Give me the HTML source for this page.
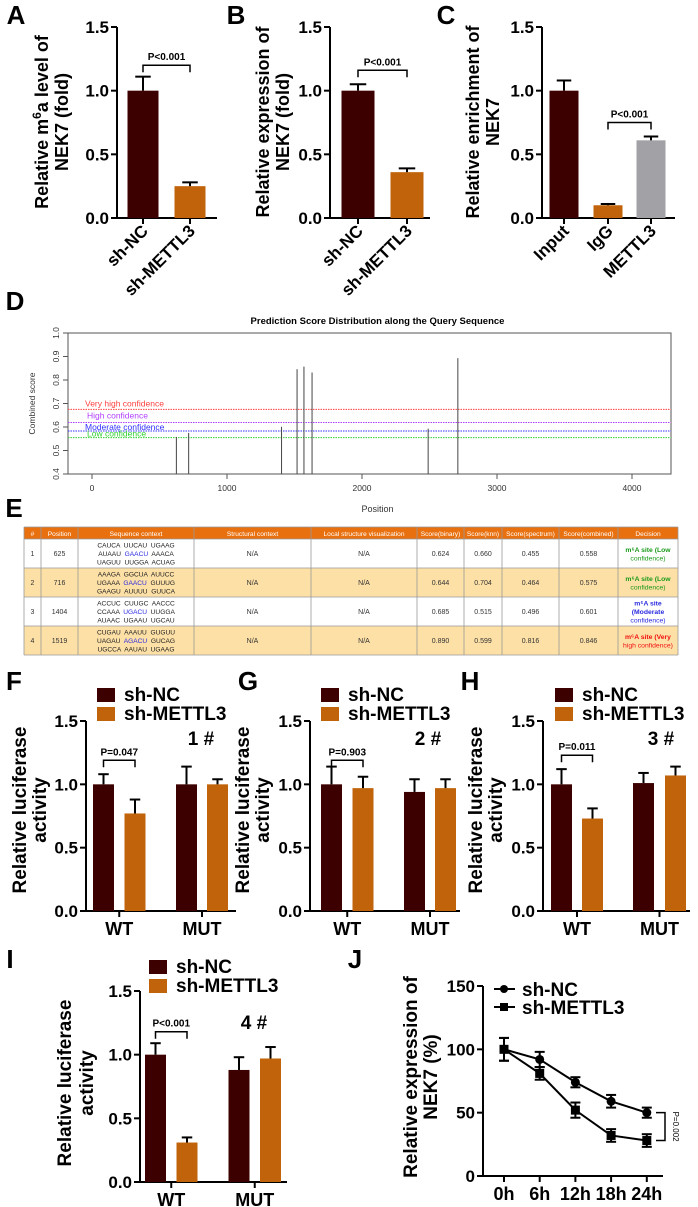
<!DOCTYPE html>
<html><head><meta charset="utf-8">
<style>
body{margin:0;background:#fff;}
svg{display:block;font-family:"Liberation Sans",Arial,sans-serif;}
</style></head>
<body>
<svg id="fig" width="698" height="1207" viewBox="0 0 698 1207" xmlns="http://www.w3.org/2000/svg"></svg>
<script>
// ---------- DATA ----------
const catsA = ["sh-NC","sh-METTL3"];
const valsA = [1.0, 0.25];
const errA  = [0.11, 0.03];
const catsB = ["sh-NC","sh-METTL3"];
const valsB = [1.0, 0.36];
const errB  = [0.05, 0.03];
const catsC = ["Input","IgG","METTL3"];
const valsC = [1.0, 0.10, 0.61];
const errC  = [0.08, 0.01, 0.03];
const barTicks = [0, 0.5, 1.0, 1.5];
const barTickLabels = ["0.0","0.5","1.0","1.5"];

const groupsLuc = ["WT","MUT"];
const seriesLuc = ["sh-NC","sh-METTL3"];
const valsF = [1.0, 0.77, 1.0, 1.0];
const errF  = [0.08, 0.11, 0.14, 0.04];
const valsG = [1.0, 0.97, 0.94, 0.97];
const errG  = [0.14, 0.09, 0.10, 0.07];
const valsH = [1.0, 0.73, 1.01, 1.07];
const errH  = [0.12, 0.08, 0.08, 0.07];
const valsI = [1.0, 0.31, 0.88, 0.97];
const errI  = [0.09, 0.04, 0.10, 0.09];

const sitePos   = [625, 716, 1404, 1519, 1570, 1630, 2490, 2710];
const siteScore = [0.558, 0.575, 0.601, 0.846, 0.857, 0.832, 0.593, 0.893];
const thrNames  = ["Very high confidence","High confidence","Moderate confidence","Low confidence"];
const thrVals   = [0.675, 0.619, 0.583, 0.555];
const dXTicks = [0,1000,2000,3000,4000];
const dYTicks = [0.4,0.5,0.6,0.7,0.8,0.9,1.0];

const jCats = ["0h","6h","12h","18h","24h"];
const jNC   = [100, 92, 74, 59, 50];
const jNCe  = [9, 6, 4, 5, 4];
const jME   = [100, 81, 52, 32, 28];
const jMEe  = [9, 5, 6, 5, 5];
const jTicks = [0, 50, 100, 150];

const tableRows = [
 ["1","625",["CAUCA  UUCAU  UGAAG","AUAAU  GAACU  AAACA","UAGUU  UUGGA  ACUAG"],"0.624","0.660","0.455","0.558",["m⁶A site (Low","confidence)"],"#1a9a1a"],
 ["2","716",["AAAGA  GGCUA  AUUCC","UGAAA  GAACU  GUUUG","GAAGU  AUUUU  GUUCA"],"0.644","0.704","0.464","0.575",["m⁶A site (Low","confidence)"],"#1a9a1a"],
 ["3","1404",["ACCUC  CUUGC  AACCC","CCAAA  UGACU  UUGGA","AUAAC  UGAAU  UGCAU"],"0.685","0.515","0.496","0.601",["m⁶A site","(Moderate","confidence)"],"#2a2ae0"],
 ["4","1519",["CUGAU  AAAUU  GUGUU","UAGAU  AGACU  GUCAG","UGCCA  AAUAU  UGAAG"],"0.890","0.599","0.816","0.846",["m⁶A site (Very","high confidence)"],"#f01010"]
];

// ---------- HELPERS ----------
const NS = "http://www.w3.org/2000/svg";
const svg = document.getElementById("fig");
const DARK = "#3c0000", ORANGE = "#c0630a", GRAY = "#a2a2a6";
function el(tag, parent){ const e=document.createElementNS(NS,tag); (parent||svg).appendChild(e); return e; }
function set(e,o){ for(const k in o) e.setAttribute(k,o[k]); return e; }
function txt(parent,x,y,s,size,opts){
  const t=el("text",parent);
  set(t,{x:x,y:y,"font-size":size,"font-weight":(opts&&opts.w)||"bold",fill:(opts&&opts.fill)||"#000","text-anchor":(opts&&opts.a)||"middle"});
  if(opts&&opts.rot!==undefined) t.setAttribute("transform","rotate("+opts.rot+" "+x+" "+y+")");
  t.textContent=s; return t;
}
function line(parent,x1,y1,x2,y2,c,w,dash){
  const l=el("line",parent); set(l,{x1:x1,y1:y1,x2:x2,y2:y2,stroke:c||"#000","stroke-width":w||2});
  if(dash) l.setAttribute("stroke-dasharray",dash); return l;
}

function barPanel(cfg){
  const g=el("g");  
  const yS=v=>cfg.y0-(v/1.5)*(cfg.y0-cfg.yTop);
  const lt=txt(g,cfg.letterX,cfg.letterY,cfg.letter,26);
   
  const ax=line(g,cfg.axisX,cfg.yTop,cfg.axisX,cfg.y0,"#000",2);
   
  barTicks.forEach((t,i)=>{
    line(g,cfg.axisX-6,yS(t),cfg.axisX,yS(t),"#000",2);
    const tl=txt(g,cfg.axisX-8,yS(t)+6,barTickLabels[i],17,{a:"end"});
     
  });
  const xa=line(g,cfg.axisX,cfg.y0,cfg.xEnd,cfg.y0,"#000",2);
   
  cfg.titleLines.forEach((s,i)=>{
    const t=txt(g,cfg.titleX[i],cfg.titleY,"",cfg.titleSize||18,{rot:-90});
    t.innerHTML=s;
     
  });
  cfg.vals.forEach((v,i)=>{
    const cx=cfg.centers[i], w=cfg.w;
    const r=el("rect",g); set(r,{x:cx-w/2,y:yS(v),width:w,height:cfg.y0-yS(v),fill:cfg.colors[i]});
     
    const top=yS(v+cfg.errs[i]);
    line(g,cx,yS(v),cx,top,"#000",2);
    line(g,cx-w*0.25,top,cx+w*0.25,top,"#000",2);
  });
  if(cfg.cats){
    cfg.cats.forEach((c,i)=>{
      const cx=cfg.centers[i];
      line(g,cx,cfg.y0,cx,cfg.y0+6,"#000",2);
      const t=txt(g,cx+6,cfg.y0+14,c,17,{a:"end",rot:-45});
       
    });
  }
  if(cfg.groups){
    cfg.groups.forEach((gname,i)=>{
      const cx=(cfg.centers[2*i]+cfg.centers[2*i+1])/2;
      line(g,cx,cfg.y0,cx,cfg.y0+6,"#000",2);
      const t=txt(g,cx,cfg.y0+24,gname,18);
       
    });
  }
  if(cfg.br){
    const [a,b,val,label]=cfg.br, y=yS(val);
    const xa1=cfg.centers[a], xb=cfg.centers[b];
    const p=el("path",g); set(p,{d:`M${xa1} ${y+7}V${y}H${xb}V${y+7}`,fill:"none",stroke:"#000","stroke-width":1.5});
     
    const t=txt(g,(xa1+xb)/2,y-5,label,10);
     
  }
  if(cfg.hash){
    const t=txt(g,cfg.hash[0],cfg.hash[1],cfg.hash[2],19);
     
  }
  if(cfg.legend){
    const [lx,ly]=cfg.legend;
    seriesLuc.forEach((s,i)=>{
      const r=el("rect",g); set(r,{x:lx,y:ly+i*19,width:18,height:14,fill:i?ORANGE:DARK});
       
      const t=txt(g,lx+27,ly+i*19+13,s,19,{a:"start"});
       
    });
  }
}

// ---------- PANELS A-C ----------
barPanel({name:"panel-a",letter:"A",letterX:16,letterY:24,axisX:117,yTop:27,y0:218,xEnd:217,
  centers:[143,190],w:31,vals:valsA,errs:errA,colors:[DARK,ORANGE],cats:catsA,
  titleLines:["Relative m<tspan dy='-7' font-size='12'>6</tspan><tspan dy='7'>a level of</tspan>","NEK7 (fold)"],titleX:[48,68],titleY:122,
  br:[0,1,1.20,"P<0.001"]});
barPanel({name:"panel-b",letter:"B",letterX:236,letterY:24,axisX:330,yTop:27,y0:218,xEnd:430,
  centers:[358,407],w:33,vals:valsB,errs:errB,colors:[DARK,ORANGE],cats:catsB,
  titleLines:["Relative expression of","NEK7 (fold)"],titleX:[269,289],titleY:122,
  br:[0,1,1.16,"P<0.001"]});
barPanel({name:"panel-c",letter:"C",letterX:446,letterY:24,axisX:542,yTop:27,y0:218,xEnd:675,
  centers:[564,608,651],w:29,vals:valsC,errs:errC,colors:[DARK,ORANGE,GRAY],cats:catsC,
  titleLines:["Relative enrichment of","NEK7"],titleX:[479,499],titleY:122,
  br:[1,2,0.75,"P<0.001"]});

// ---------- PANEL D ----------
(function(){
  const g=el("g");  
  const lt=txt(g,15,310,"D",26);  
  const L=68,R=671,T=333,B=474, x0=92, xk=(632-92)/4000;
  const xS=v=>x0+v*xk, yS=v=>B-(v-0.4)/0.6*(B-T);
  const tt=txt(g,(L+R)/2+8,324,"Prediction Score Distribution along the Query Sequence",9.5);
   
  const fr=el("rect",g); set(fr,{x:L,y:T,width:R-L,height:B-T,fill:"none",stroke:"#555","stroke-width":1});
   
  const cols=["#ff4040","#b040ff","#3030ff","#30d030"];
  thrVals.forEach((v,i)=>{
    const l=line(g,L,yS(v),R,yS(v),cols[i],1,"1.5,1");
     
  });
  const lbY=[yS(thrVals[0])-3,yS(thrVals[1])-4,yS(thrVals[2])-1,yS(thrVals[3])-1];
  thrNames.forEach((s,i)=>{
    const t=txt(g,i==1||i==3?87:85,lbY[i],s,8.5,{w:"normal",fill:cols[i],a:"start"});
     
  });
  sitePos.forEach((p,i)=>{
    const l=line(g,xS(p),B,xS(p),yS(siteScore[i]),"#444",1);
     
  });
  dXTicks.forEach(v=>{
    line(g,xS(v),B,xS(v),B+5,"#555",1);
    const t=txt(g,xS(v),B+17,String(v),8.5,{w:"normal",fill:"#333"});
     
  });
  dYTicks.forEach(v=>{
    line(g,L-5,yS(v),L,yS(v),"#555",1);
    const t=txt(g,L-9,yS(v),v.toFixed(1),8.5,{w:"normal",fill:"#333",rot:-90});
     
  });
  const xt=txt(g,(L+R)/2+8,512,"Position",9,{w:"normal",fill:"#333"});
   
  const yt=txt(g,35,yS(0.7),"Combined score",8.5,{w:"normal",fill:"#333",rot:-90});
   
})();

// ---------- PANEL E (table) ----------
(function(){
  const g=el("g");  
  const lt=txt(g,14,517,"E",26);  
  const cx=[24,41,78,194,311,417,464,502,559,618,678];
  const heads=["#","Position","Sequence context","Structural context","Local structure visualization","Score(binary)","Score(knn)","Score(spectrum)","Score(combined)","Decision"];
  const ry=[527,539,568,597,626,655];
  const hr=el("rect",g); set(hr,{x:24,y:527,width:654,height:12,fill:"#e8700f"});
   
  heads.forEach((h,i)=>{
    const t=txt(g,(cx[i]+cx[i+1])/2,536,h,6.6,{w:"normal",fill:"#fff"});
     
  });
  tableRows.forEach((r,i)=>{
    const y=ry[i+1], h=ry[i+2]-y, mid=y+h/2+2.5;
    const bg=el("rect",g); set(bg,{x:24,y:y,width:654,height:h,fill:i%2?"#fde0a6":"#fff"});
     
    const cells=[r[0],r[1],null,"N/A","N/A",r[3],r[4],r[5],r[6]];
    cells.forEach((c,j)=>{
      if(c===null) return;
      const t=txt(g,(cx[j]+cx[j+1])/2,mid,c,7,{w:"normal",fill:"#333"});
       
    });
    r[2].forEach((s,k)=>{
      const t=txt(g,136,y+8.5+k*8.5,"",6.6,{w:"normal",fill:"#222"});
      t.setAttribute("xml:space","preserve");
      if(k==1){ const p=s.split("  "); t.innerHTML=p[0]+"  <tspan fill='#2a2ae0'>"+p[1]+"</tspan>  "+p[2]; }
      else t.textContent=s;
      t.style.whiteSpace="pre";
       
    });
    const dl=r[7], n=dl.length;
    dl.forEach((s,k)=>{
      const t=txt(g,648,mid+(k-(n-1)/2)*8.5,s,6.8,{w:k==0||n==3&&k==1?"bold":"normal",fill:r[8]});
       
    });
  });
  cx.forEach(x=>{ line(g,x,527,x,655,"#999",0.8); });
  ry.forEach(y=>{ line(g,24,y,678,y,"#999",0.8); });
})();

// ---------- PANELS F-I ----------
const LC=[DARK,ORANGE,DARK,ORANGE];
barPanel({name:"panel-f",letter:"F",letterX:14,letterY:690,axisX:86,yTop:721,y0:911,xEnd:236,
  centers:[103.5,135,186.5,217.5],w:21,vals:valsF,errs:errF,colors:LC,groups:groupsLuc,
  titleLines:["Relative luciferase","activity"],titleX:[26,46],titleY:810,titleSize:19,
  br:[0,1,1.19,"P=0.047"],hash:[201,745,"1 #"],legend:[97,688]});
barPanel({name:"panel-g",letter:"G",letterX:248,letterY:690,axisX:310,yTop:721,y0:911,xEnd:460,
  centers:[331.5,363,414.5,445.5],w:21,vals:valsG,errs:errG,colors:LC,groups:groupsLuc,
  titleLines:["Relative luciferase","activity"],titleX:[249,269],titleY:810,titleSize:19,
  br:[0,1,1.19,"P=0.903"],hash:[428,745,"2 #"],legend:[321,688]});
barPanel({name:"panel-h",letter:"H",letterX:470,letterY:690,axisX:543,yTop:721,y0:911,xEnd:690,
  centers:[561.5,592.5,643.5,675.5],w:21,vals:valsH,errs:errH,colors:LC,groups:groupsLuc,
  titleLines:["Relative luciferase","activity"],titleX:[482,502],titleY:810,titleSize:19,
  br:[0,1,1.23,"P=0.011"],hash:[661,745,"3 #"],legend:[555,688]});
barPanel({name:"panel-i",letter:"I",letterX:10,letterY:968,axisX:140,yTop:991,y0:1182,xEnd:287,
  centers:[155.5,187,239,270.5],w:21,vals:valsI,errs:errI,colors:LC,groups:groupsLuc,
  titleLines:["Relative luciferase","activity"],titleX:[71,93],titleY:1083,titleSize:19,
  br:[0,1,1.18,"P<0.001"],hash:[254,1029,"4 #"],legend:[149,960]});

// ---------- PANEL J ----------
(function(){
  const g=el("g");  
  const lt=txt(g,355,968,"J",26);  
  const AX=483, Y0=1176, YT=986, XE=663;
  const yS=v=>Y0-v/150*(Y0-YT), xS=i=>504+i*35.7;
  line(g,AX,YT,AX,Y0,"#000",2); line(g,AX,Y0,XE,Y0,"#000",2);
  jTicks.forEach(v=>{
    line(g,AX-6,yS(v),AX,yS(v),"#000",2);
    const t=txt(g,AX-8,yS(v)+6,String(v),17,{a:"end"});
     
  });
  jCats.forEach((c,i)=>{
    line(g,xS(i),Y0,xS(i),Y0+6,"#000",2);
    const t=txt(g,xS(i),Y0+24,c,18);
     
  });
  ["Relative expression of","NEK7 (%)"].forEach((s,i)=>{
    const t=txt(g,417+i*20,1077,s,19,{rot:-90});
     
  });
  function series(vals,errs,marker,name){
    const pl=el("polyline",g); set(pl,{points:vals.map((v,i)=>xS(i)+","+yS(v)).join(" "),fill:"none",stroke:"#000","stroke-width":2});
     
    vals.forEach((v,i)=>{
      const x=xS(i);
      line(g,x,yS(v-errs[i]),x,yS(v+errs[i]),"#000",2);
      line(g,x-5,yS(v+errs[i]),x+5,yS(v+errs[i]),"#000",2);
      line(g,x-5,yS(v-errs[i]),x+5,yS(v-errs[i]),"#000",2);
      let m;
      if(marker=="c"){ m=el("circle",g); set(m,{cx:x,cy:yS(v),r:4.5,fill:"#000"}); }
      else { m=el("rect",g); set(m,{x:x-4.5,y:yS(v)-4.5,width:9,height:9,fill:"#000"}); }
       
    });
  }
  series(jNC,jNCe,"c","sh-nc");
  series(jME,jMEe,"s","sh-mettl3");
  [["sh-NC","c"],["sh-METTL3","s"]].forEach((e,i)=>{
    const y=989+i*18;
    line(g,494,y,515,y,"#000",2);
    let m;
    if(e[1]=="c"){ m=el("circle",g); set(m,{cx:504,cy:y,r:4,fill:"#000"}); }
    else { m=el("rect",g); set(m,{x:500,y:y-4,width:8,height:8,fill:"#000"}); }
     
    const t=txt(g,522,y+7,e[0],19,{a:"start"});
     
  });
  const by1=yS(jNC[4]), by2=yS(jME[4]);
  const p=el("path",g); set(p,{d:`M656 ${by1}H665V${by2}H656`,fill:"none",stroke:"#000","stroke-width":1.5});
   
  const pt=txt(g,673,(by1+by2)/2,"P=0.002",8,{w:"normal",rot:90});
   
})();
</script>
</body></html>
